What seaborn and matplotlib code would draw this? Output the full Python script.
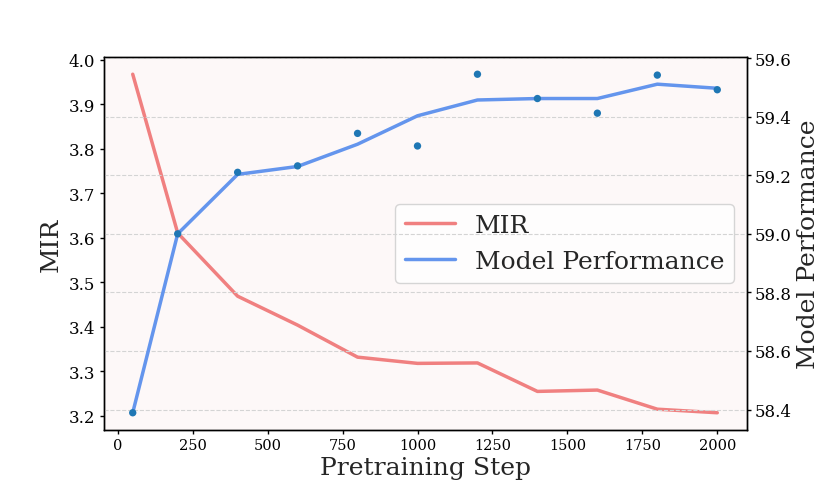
import matplotlib
matplotlib.use("Agg")
import matplotlib.pyplot as plt
import seaborn as sns
import pandas as pd

steps = [50, 200, 400, 600, 800, 1000, 1200, 1400, 1600, 1800, 2000]
mir = [3.968, 3.611, 3.469, 3.404, 3.332, 3.318, 3.319, 3.255, 3.258, 3.215, 3.207]
perf_points = [58.389, 59.00, 59.21, 59.232, 59.343, 59.30, 59.545, 59.462, 59.412, 59.542, 59.492]
perf_line = [58.389, 59.00, 59.203, 59.23, 59.306, 59.403, 59.457, 59.462, 59.462, 59.511, 59.497]
x_ticks = [0, 250, 500, 750, 1000, 1250, 1500, 1750, 2000]
mir_ticks = [3.2, 3.3, 3.4, 3.5, 3.6, 3.7, 3.8, 3.9, 4.0]
perf_ticks = [58.4, 58.6, 58.8, 59.0, 59.2, 59.4, 59.6]

df = pd.DataFrame({"step": steps, "mir": mir, "pts": perf_points, "line": perf_line})

sns.set_style("ticks")
plt.rcParams["font.family"] = ["DejaVu Serif"]

fig = plt.figure(figsize=(8.3, 4.85), dpi=100)
ax1 = fig.add_axes([0.1247, 0.112, 0.7747, 0.7678])
ax1.set_facecolor("#fdf8f8")
ax2 = ax1.twinx()

sns.lineplot(data=df, x="step", y="mir", ax=ax1, color="#f08080", linewidth=2.5, label="MIR", legend=False)
sns.lineplot(data=df, x="step", y="line", ax=ax2, color="#6495ed", linewidth=2.5, label="Model Performance", legend=False)
sns.scatterplot(data=df, x="step", y="pts", ax=ax2, color="#1f77b4", s=28, edgecolor="none", zorder=3, legend=False)

ax1.set_xticks(x_ticks)
ax1.set_yticks(mir_ticks)
ax1.set_yticklabels([f"{v:.1f}" for v in mir_ticks])
ax2.set_yticks(perf_ticks)
ax2.set_yticklabels([f"{v:.1f}" for v in perf_ticks])
ax1.margins(x=0.05, y=0.05)
ax2.margins(y=0.05)

ax1.tick_params(axis="x", labelsize=10.5, length=3, width=1, pad=3, colors="black")
ax1.tick_params(axis="y", labelsize=12, length=3, width=1, pad=3, colors="black")
ax2.tick_params(axis="y", labelsize=12, length=3, width=1, pad=3, colors="black")
ax1.set_xlabel("Pretraining Step", fontsize=18, labelpad=3)
ax1.set_ylabel("MIR", fontsize=18, labelpad=4)
ax2.set_ylabel("Model Performance", fontsize=18, labelpad=4)

ax2.grid(axis="y", linestyle="--", color="#d4d4d4", linewidth=0.8)
ax1.grid(False)
for ax in (ax1, ax2):
    for sp in ax.spines.values():
        sp.set_visible(True)
        sp.set_color("black")
        sp.set_linewidth(1.0)

h1, l1 = ax1.get_legend_handles_labels()
h2, l2 = ax2.get_legend_handles_labels()
ax1.legend(h1 + h2, l1 + l2, loc="center right", fontsize=18, frameon=True)

fig.savefig("out.png", dpi=100)
